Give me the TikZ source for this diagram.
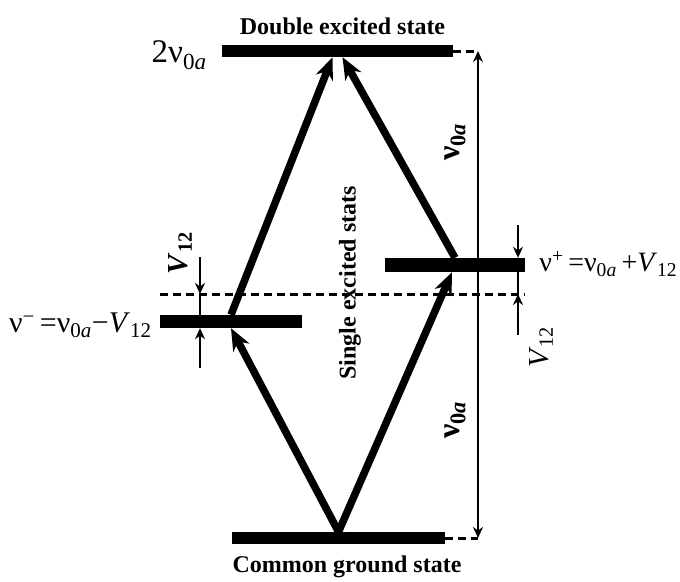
\documentclass[tikz,border=0pt]{standalone}
\usepackage{fontspec}
\setmainfont{Liberation Serif}
\usetikzlibrary{positioning,arrows.meta,calc}
\tikzset{
  levelbar/.style={fill=black, inner sep=0pt, minimum height=12pt},
  transition/.style={-{Stealth[length=22pt, width=18pt, inset=7pt]}, line width=7.5pt},
  gaparrow/.style={-{Stealth[length=11pt, width=10pt]}, line width=2.3pt},
  gapline/.style={line width=2.3pt},
  guide/.style={line width=3pt, dash pattern=on 8pt off 5pt},
  stateLabel/.style={font=\fontsize{24}{24}\selectfont\bfseries, inner sep=0pt},
  freqLabel/.style={font=\fontsize{30}{30}\selectfont, inner sep=0pt},
  gapLabel/.style={font=\fontsize{29}{29}\selectfont, inner sep=0pt, rotate=90}
}
\begin{document}
\begin{tikzpicture}[x=1pt, y=-1pt]
  \useasboundingbox (0,0) rectangle (680,581);

  % Marcas auxiliares
  \coordinate (midL) at (160,294);
  \coordinate (midR) at (525,294);
  \coordinate (topend) at (478,51);
  \coordinate (midend) at (478,294);
  \coordinate (gndend) at (478,538);
  \coordinate (upl) at (200,257);
  \coordinate (lowl) at (200,368);
  \coordinate (upr) at (518,225);
  \coordinate (lowr) at (518,335);

  \draw[guide] (midL) -- (midR);

  % Niveles
  \node[levelbar, minimum width=231pt] (top) at (337.5,51) {};
  \node[levelbar, minimum width=142pt, minimum height=13pt] (minus) at (231,321.5) {};
  \node[levelbar, minimum width=140pt, minimum height=14pt] (plus) at (455,265) {};
  \node[levelbar, minimum width=213pt] (gnd) at (338.5,538) {};

  % Transiciones
  \draw[transition] (gnd.north) -- (minus.south);
  \draw[transition] (minus.north) -- ([xshift=-5pt]top.south);
  \draw[transition] (gnd.north) -- ([xshift=-3pt]plus.south);
  \draw[transition] (plus.north) -- ([xshift=5pt]top.south);

  % Separaciones
  \draw[guide] (top.east) -- (topend);
  \draw[guide] (gnd.east) -- (gndend);
  \draw[gaparrow] (midend) -- (topend);
  \draw[gaparrow] (midend) -- (gndend);

  \draw[gaparrow] (upl) -- (upl |- midL);
  \draw[gapline] (upl |- midL) -- (upl |- minus.north);
  \draw[gaparrow] (lowl) -- (lowl |- minus.south);
  \draw[gaparrow] (upr) -- (upr |- plus.north);
  \draw[gapline] (upr |- plus.south) -- (upr |- midR);
  \draw[gaparrow] (lowr) -- (lowr |- midR);

  % Etiquetas
  \node[stateLabel, above=10pt of top, xshift=5pt] (toptext) {Double excited state};
  \node[stateLabel, below=11pt of gnd, xshift=8.5pt] (gndtext) {Common ground state};
  \node[stateLabel, rotate=90] (midtext) at (350,283) {Single excited stats};

  \node[freqLabel, font=\fontsize{33}{33}\selectfont, left=15pt of top, yshift=-4pt] (twonu) {2ν\textsubscript{0\textit{a}}};
  \node[freqLabel, left=8pt of minus, yshift=-4pt] (numinus) {ν\textsuperscript{−}\,=ν\textsubscript{0\textit{a}}−\textit{V}\textsubscript{12}};
  \node[freqLabel, font=\fontsize{28}{28}\selectfont, right=14pt of plus, yshift=1pt] (nuplus) {ν\textsuperscript{+}\,=ν\textsubscript{0\textit{a}}\,+\textit{V}\textsubscript{12}};

  \node[gapLabel, font=\fontsize{32}{32}\selectfont\bfseries] (nuup) at (455,142) {ν\textsubscript{0\textit{a}}};
  \node[gapLabel, font=\fontsize{32}{32}\selectfont\bfseries] (nudown) at (455,420) {ν\textsubscript{0\textit{a}}};
  \node[gapLabel, font=\fontsize{29}{29}\selectfont\bfseries] (vleft) at (180,253) {\textit{V}\textsubscript{12}};
  \node[gapLabel] (vright) at (541,347) {\textit{V}\textsubscript{12}};
\end{tikzpicture}
\end{document}
